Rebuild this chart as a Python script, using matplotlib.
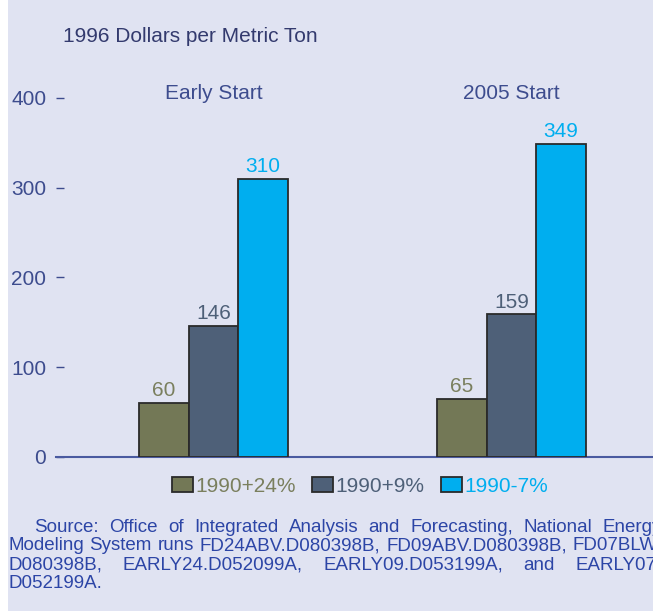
import matplotlib.pyplot as plt
import matplotlib.patches as mpatches
import numpy as np

plt.rcParams['font.family'] = ['Liberation Sans', 'DejaVu Sans']

# data
groups = ["Early Start", "2005 Start"]
series = ["1990+24%", "1990+9%", "1990-7%"]
values = {
    "1990+24%": [60, 65],
    "1990+9%": [146, 159],
    "1990-7%": [310, 349],
}
colors = ["#737856", "#4e6078", "#00aeef"]
label_colors = ["#7a7f5e", "#4e6078", "#00aeef"]
yticks = [0, 100, 200, 300, 400]

source_lines = [
    "Source: Office of Integrated Analysis and Forecasting, National Energy",
    "Modeling System runs FD24ABV.D080398B, FD09ABV.D080398B, FD07BLW.",
    "D080398B, EARLY24.D052099A, EARLY09.D053199A, and EARLY07.",
    "D052199A.",
]

bg = "#e0e3f2"
axis_col = "#3d4c8e"
W, H = 653, 611
fs = 15

fig = plt.figure(figsize=(W / 100, H / 100), dpi=100, facecolor=bg)
fig.patches.append(mpatches.Rectangle((0, 0), 8 / W, 1, transform=fig.transFigure,
                                      facecolor="white", edgecolor="none", zorder=0))

ax = fig.add_axes([56 / W, (H - 457) / H, 1 - 56 / W, 377 / H])
ax.set_facecolor(bg)

x = np.arange(len(groups))
bw = 49.5 / 298
for i, s in enumerate(series):
    bars = ax.bar(x + (i - 1) * bw, values[s], bw, color=colors[i],
                  edgecolor="#2a2a2a", linewidth=1.3, label=s, zorder=3)
    ax.bar_label(bars, padding=2, color=label_colors[i], fontsize=fs)

ax.set_xlim(-157.5 / 298, -157.5 / 298 + 597 / 298)
ax.set_ylim(0, 420)
ax.set_yticks(yticks)
ax.set_xticks([])
for sp in ["top", "right", "left"]:
    ax.spines[sp].set_visible(False)
ax.spines["bottom"].set_color("#4a5aa0")
ax.spines["bottom"].set_linewidth(1.5)
ax.tick_params(axis="y", direction="in", length=6, width=1, color=axis_col,
               labelcolor=axis_col, labelsize=fs, pad=7)

for xi, g in zip(x, groups):
    ax.text(xi, 405, g, ha="center", va="center", color=axis_col, fontsize=fs)

fig.text(63 / W, 1 - 37 / H, "1996 Dollars per Metric Ton", ha="left", va="center",
         color="#333a6e", fontsize=fs)

leg = fig.legend(loc="center", bbox_to_anchor=(360 / W, 1 - 486 / H), ncol=3,
                 frameon=False, fontsize=fs, handlelength=1.0, handleheight=0.75,
                 handletextpad=0.1, columnspacing=0.8, borderaxespad=0)
for t, c in zip(leg.get_texts(), label_colors):
    t.set_color(c)

# justified source text
src_col = "#2c45a6"
src_fs = 13.5
renderer = fig.canvas.get_renderer()
starts = [34, 8, 8, 8]
right_edge = 662
ys = [527, 546, 565, 584]
for k, line in enumerate(source_lines):
    words = line.split(" ")
    y = 1 - ys[k] / H
    if k == len(source_lines) - 1:
        fig.text(starts[k] / W, y, line, color=src_col, fontsize=src_fs, va="center")
        continue
    texts = [fig.text(0, y, w, color=src_col, fontsize=src_fs, va="center") for w in words]
    widths = [t.get_window_extent(renderer).width for t in texts]
    gap = (right_edge - starts[k] - sum(widths)) / (len(words) - 1)
    xpos = starts[k]
    for t, w in zip(texts, widths):
        t.set_x(xpos / W)
        xpos += w + gap

fig.savefig("out.png", dpi=100, facecolor=bg)
